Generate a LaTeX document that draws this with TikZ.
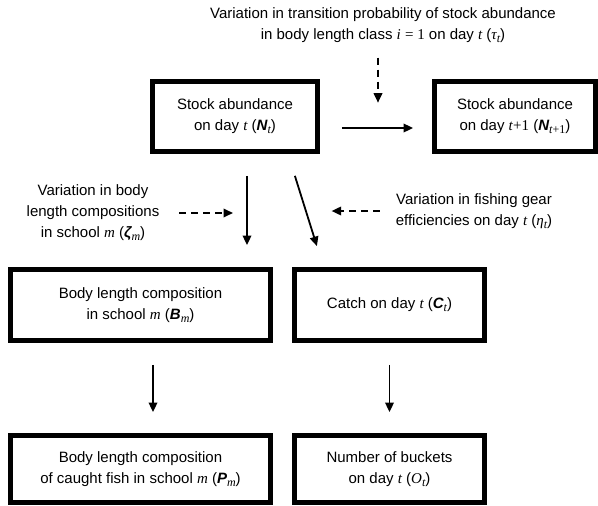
\documentclass[tikz,border=0pt]{standalone}
\usepackage{fontspec}
\setmainfont{Liberation Sans}
\newfontfamily\serifvar{Liberation Serif}
\usetikzlibrary{arrows.meta}
% variables: serif italic, bold sans italic, serif subscript
\newcommand{\vi}[1]{{\serifvar\itshape #1}}
\newcommand{\vb}[1]{{\bfseries\itshape #1}}
\newcommand{\vsub}[1]{\raisebox{-3pt}{\fontsize{12}{12}\selectfont\serifvar #1}}
\begin{document}
\begin{tikzpicture}[x=1pt, y=-1pt, font=\fontsize{15}{21}\selectfont,
  stockbox/.style={draw=black, line width=4.8pt, align=center, inner sep=0pt},
  note/.style={align=center, inner sep=0pt},
  arr/.style={-{Triangle[length=9.5pt,width=8.5pt]}, line width=1.8pt},
  darr/.style={arr, dash pattern=on 7pt off 5pt}]
\useasboundingbox (0,0) rectangle (598,506);
% labels of the variations
\node[note] (tau) at (383,25) {Variation in transition probability of stock abundance\\in body length class \vi{i} {\serifvar= 1} on day \vi{t} (\vi{τ}\vsub{\itshape t})};
\node[note] (zeta) at (93,213) {Variation in body\\length compositions\\in school \vi{m} (\vb{ζ}\vsub{\itshape m})};
\node[note] (eta) at (474,211) {Variation in fishing gear\\efficiencies on day \vi{t} (\vi{η}\vsub{\itshape t})};
% boxes
\node[stockbox, minimum width=165pt, minimum height=70pt] (Nt) at (235,116.5) {Stock abundance\\on day \vi{t} (\vb{N}\vsub{\itshape t})};
\node[stockbox, minimum width=161pt, minimum height=70pt] (Nt1) at (515,116.5) {Stock abundance\\on day {\serifvar\textit{t}+1} (\vb{N}\vsub{\textit{t}+1})};
\node[stockbox, minimum width=260pt, minimum height=71pt] (Bm) at (140.5,305) {Body length composition\\in school \vi{m} (\vb{B}\vsub{\itshape m})};
\node[stockbox, minimum width=190pt, minimum height=71pt] (Ct) at (389.5,305) {Catch on day \vi{t} (\vb{C}\vsub{\itshape t})};
\node[stockbox, minimum width=260pt, minimum height=67pt] (Pm) at (140.5,469) {Body length composition\\of caught fish in school \vi{m} (\vb{P}\vsub{\itshape m})};
\node[stockbox, minimum width=190pt, minimum height=67pt] (Ot) at (389.5,469) {Number of buckets\\on day \vi{t} (\vi{O}\vsub{\itshape t})};
% solid arrows
\coordinate (split) at ([xshift=12pt]Nt.south);
\draw[arr, shorten <=22pt, shorten >=19pt] ([yshift=-11.5pt]Nt.east) -- ([yshift=-11.5pt]Nt1.west);
\draw[arr, shorten <=22pt, shorten >=22pt] (split) -- (split |- Bm.north);
\draw[arr, shorten <=23pt, shorten >=22pt] ([xshift=53pt]Nt.south) -- ([xshift=-66pt]Ct.north);
\draw[arr, shorten <=22pt, shorten >=21pt] ([xshift=12.5pt]Bm.south) -- ([xshift=12.5pt]Pm.north);
\draw[arr, shorten <=22pt, shorten >=21pt] (Ct.south) -- (Ot.north);
% dashed arrows
\draw[darr] ([xshift=-5pt,yshift=-15pt]tau.south) -- ++(0,45);
\draw[darr] ([xshift=20pt]zeta.east) -- ([xshift=-14pt]zeta.east -| split);
\draw[darr] ([xshift=-16pt]eta.west) -- ++(-48,0);
\end{tikzpicture}
\end{document}
